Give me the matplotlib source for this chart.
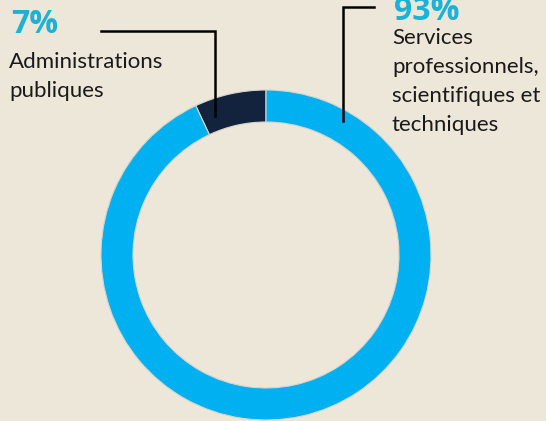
import matplotlib.pyplot as plt

# data
labels = ["Administrations\npubliques", "Services\nprofessionnels,\nscientifiques et\ntechniques"]
shares = [7, 93]
pct_labels = ["7%", "93%"]
colors = ["#13233d", "#00b0f0"]

BG = "#ede7d9"
TEAL = "#1ab2d6"
H = 421  # figure height in px, text positions are measured from the top

plt.rcParams["font.family"] = ["Lato", "DejaVu Sans"]

fig = plt.figure(figsize=(5.46, 4.21), dpi=100, facecolor=BG)
ax = fig.add_axes([0, 0, 1, 1])
ax.set_facecolor(BG)

# donut, pixel coordinates with y measured from the bottom
ax.pie(shares, colors=colors, startangle=90, counterclock=True,
       center=(266, H - 255), radius=165,
       wedgeprops=dict(width=32, edgecolor="#d9d4c8", linewidth=0.8),
       frame=True)
ax.set_xlim(0, 546)
ax.set_ylim(0, H)
ax.set_aspect("equal")
ax.axis("off")

# leader lines
ax.plot([101, 215, 215], [H - 31, H - 31, H - 116], color="black", lw=1.8,
        solid_joinstyle="miter")
ax.plot([374, 343, 343], [H - 7, H - 7, H - 121], color="black", lw=1.8,
        solid_joinstyle="miter")

# labels: (x, percent baseline, first text baseline)
spots = [(11, 33, 68), (394, 20, 44)]
for (x, pb, tb), pct, lab in zip(spots, pct_labels, labels):
    ax.text(x, H - pb, pct, color=TEAL, fontsize=23, fontweight="bold",
            family=["Open Sans", "DejaVu Sans"], va="baseline", ha="left")
    for i, line in enumerate(lab.split("\n")):
        ax.text(x - 2, H - tb - 29 * i, line, color="#1a1a1a", fontsize=16,
                va="baseline", ha="left")

fig.savefig("out.png", dpi=100, facecolor=BG)
